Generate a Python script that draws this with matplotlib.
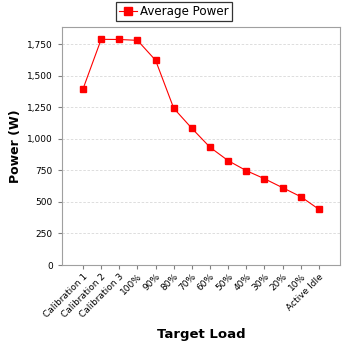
import numpy as np
import matplotlib.pyplot as plt
from matplotlib.ticker import FuncFormatter, MultipleLocator

loads = ["Calibration 1", "Calibration 2", "Calibration 3", "100%", "90%", "80%",
         "70%", "60%", "50%", "40%", "30%", "20%", "10%", "Active Idle"]
power = [1394, 1787, 1786, 1779, 1621, 1241, 1082, 932, 826, 747, 683, 612, 541, 441]

fig = plt.figure(figsize=(3.48, 3.48), dpi=100)
ax = fig.add_axes([0.178, 0.2385, 0.799, 0.684])

x = np.arange(len(loads))
ax.plot(x, power, color="#ff0000", lw=0.8, marker="s", ms=4.6, mec="#ff0000",
        mfc="#ff0000", label="Average Power")

ax.set_xlim(-1.16, len(loads) - 1 + 1.16)
ax.set_ylim(0, 1885)
ax.yaxis.set_major_locator(MultipleLocator(250))
ax.yaxis.set_major_formatter(FuncFormatter(lambda v, p: f"{int(v):,}"))
ax.set_xticks(x)
ax.set_xticklabels(loads, rotation=45, ha="right", rotation_mode="anchor")

ax.grid(axis="y", color="#d8d8d8", ls=(0, (3, 2)), lw=0.6)
ax.set_axisbelow(True)
for s in ax.spines.values():
    s.set_color("#a0a0a0")
ax.tick_params(colors="#808080", labelcolor="black", labelsize=6.5, length=3, width=0.8)
ax.tick_params(axis="x", pad=2)

ax.set_ylabel("Power (W)", fontsize=9, fontweight="bold", labelpad=4)
ax.set_xlabel("Target Load", fontsize=9.5, fontweight="bold", labelpad=6)

leg = fig.legend(loc="upper center", bbox_to_anchor=(0.5, 1.0), fontsize=8.6,
                 frameon=True, fancybox=False, edgecolor="black", borderpad=0.25,
                 handlelength=1.5, handletextpad=0.3, markerscale=1.2,
                 borderaxespad=0.15)
leg.get_frame().set_linewidth(0.9)

fig.savefig("out.png", dpi=100)
